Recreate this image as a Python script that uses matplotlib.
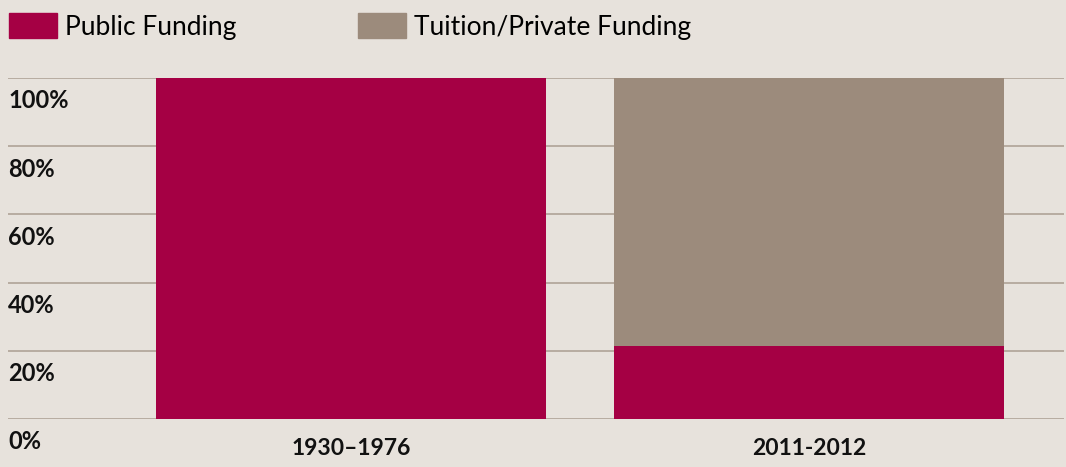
import matplotlib.pyplot as plt
import matplotlib.patches as mpatches

periods = ['1930–1976', '2011-2012']
public = [100, 21.5]
private = [0, 78.5]
y_ticks = [0, 20, 40, 60, 80, 100]
y_labels = ['0%', '20%', '40%', '60%', '80%', '100%']

red = '#a50044'
grey = '#9c8b7c'
bg = '#e7e2dc'
grid = '#b3a89c'

plt.rcParams['font.family'] = ['Lato', 'DejaVu Sans']

fig = plt.figure(figsize=(10.66, 4.67), dpi=100, facecolor=bg)
ax = fig.add_axes([8 / 1066, 48 / 467, 1056 / 1066, 341 / 467])
ax.set_facecolor(bg)

x = range(len(periods))
ax.bar(x, public, width=0.8515, color=red, zorder=3)
ax.bar(x, private, bottom=public, width=0.8515, color=grey, zorder=3)

for t in y_ticks:
    ax.axhline(t, color=grid, lw=1.3, zorder=1)
for t, lab in zip(y_ticks, y_labels):
    ax.annotate(lab, (0, t), xycoords=('axes fraction', 'data'), xytext=(0, -16.5),
                textcoords='offset points', ha='left', va='center',
                fontsize=17, fontweight='bold', color='#111111', annotation_clip=False)

ax.set_xlim(-0.749, 1.557)
ax.set_ylim(0, 100)
ax.set_xticks(list(x))
ax.set_xticklabels(periods, fontsize=16.5, fontweight='bold', color='#111111')
ax.tick_params(axis='x', length=0, pad=14)
ax.set_yticks([])
for s in ax.spines.values():
    s.set_visible(False)

handles = [mpatches.Patch(color=red, label='Public Funding'),
           mpatches.Patch(color=grey, label='Tuition/Private Funding')]
fig.legend(handles=handles, loc='upper left', bbox_to_anchor=(0.0, 0.992), ncol=2,
           frameon=False, fontsize=19, handlelength=1.82, handleheight=1.1,
           handletextpad=0.3, columnspacing=4.6, borderpad=0.2, borderaxespad=0.15)

fig.savefig('out.png', dpi=100, facecolor=bg)
